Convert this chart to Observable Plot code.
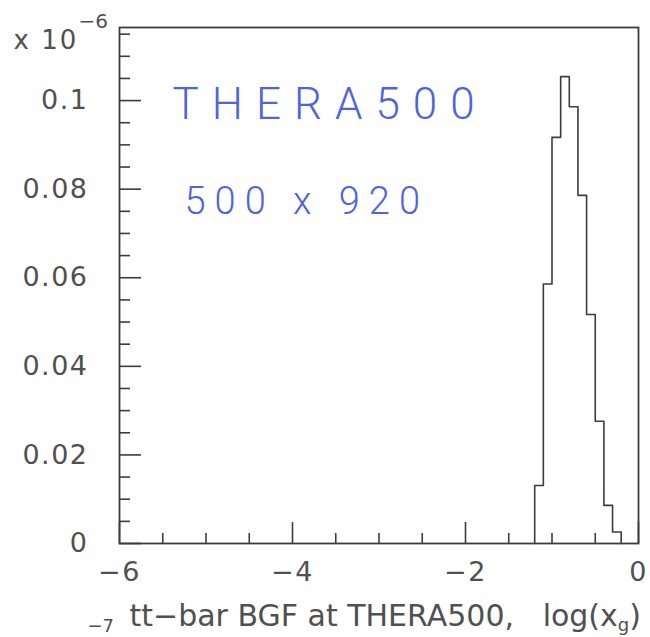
<!DOCTYPE html>
<html>
<head>
<meta charset="utf-8">
<script src="https://cdn.jsdelivr.net/npm/d3@7"></script>
<script src="https://cdn.jsdelivr.net/npm/@observablehq/plot@0.6"></script>
<style>
  html, body { margin: 0; padding: 0; background: #fff; }
  #chart svg { display: block; }
</style>
</head>
<body>
<div id="chart"></div>
<script>
// ---- data (values in units of 10^-6, as on the axis) ----
const binEdges  = [-1.2, -1.1, -1.0, -0.9, -0.8, -0.7, -0.6, -0.5, -0.4, -0.3, -0.2];
const binValues = [0.0131, 0.0586, 0.0917, 0.1054, 0.0986, 0.0786, 0.0517, 0.0276, 0.0086, 0.0026];
const xDomain = [-6, 0];
const yDomain = [0, 0.1165];
const xMajorTicks = [-6, -4, -2, 0];
const xMinorTicks = [-5.5, -5, -4.5, -3.5, -3, -2.5, -1.5, -1, -0.5];
const yMajorTicks = [0, 0.02, 0.04, 0.06, 0.08, 0.1];
const yMinorTicks = [0.005, 0.01, 0.015, 0.025, 0.03, 0.035, 0.045, 0.05, 0.055,
                     0.065, 0.07, 0.075, 0.085, 0.09, 0.095, 0.105, 0.11, 0.115];
const xTitle = "tt−bar BGF at THERA500,\u00a0\u00a0\u00a0log(x";
const xTitleSub = "g";
const xTitleEnd = ")";
const yExponentBase = "x 10";
const yExponent = "−6";
const cutText = "−7";
const note1 = "THERA500";
const note2 = "500 x 920";

// ---- layout ----
const W = 650, H = 637, mL = 119, mR = 12, mT = 27, mB = 94;
const frameW = W - mL - mR, frameH = H - mT - mB;
const ink = "#3c3c3c";
const textInk = "#505050";
const blue = "#4f63df";
const handFont = "'DejaVu Sans ExtraLight', 'Roboto Light', 'Open Sans Light', 'DejaVu Sans', sans-serif";

const fmt = d => d < 0 ? "−" + (-d) : String(d);

// step outline of histogram built from the bins
const stepData = [{x: binEdges[0], y: 0}]
  .concat(binValues.map((v, i) => ({x: binEdges[i], y: v})))
  .concat([{x: binEdges[binEdges.length - 1], y: 0}]);

const svg = Plot.plot({
  width: W, height: H,
  marginLeft: mL, marginRight: mR, marginTop: mT, marginBottom: mB,
  style: {fontFamily: "DejaVu Sans", fontSize: "27px", color: textInk, background: "#fff"},
  x: {domain: xDomain, ticks: xMajorTicks, tickSize: 0, tickPadding: 18, tickFormat: fmt, label: null},
  y: {domain: yDomain, ticks: yMajorTicks, tickSize: 0, tickPadding: 31, tickFormat: fmt, label: null},
  marks: [
    Plot.tickX(xMajorTicks, {x: d => d, stroke: ink, strokeWidth: 1.6, insetTop: frameH - 21}),
    Plot.tickX(xMinorTicks, {x: d => d, stroke: ink, strokeWidth: 1.6, insetTop: frameH - 10}),
    Plot.tickY(yMajorTicks, {y: d => d, stroke: ink, strokeWidth: 1.6, insetRight: frameW - 22}),
    Plot.tickY(yMinorTicks, {y: d => d, stroke: ink, strokeWidth: 1.6, insetRight: frameW - 11}),
    Plot.line(stepData, {x: "x", y: "y", curve: "step-after", stroke: ink, strokeWidth: 1.6}),
    Plot.frame({stroke: ink, strokeWidth: 1.8}),
    Plot.text([xTitle], {text: d => d, frameAnchor: "bottom-left", textAnchor: "start", lineAnchor: "bottom",
      dx: 10, dy: 82, fontSize: 30, fill: textInk}),
    Plot.text([yExponentBase], {text: d => d, frameAnchor: "top-left", textAnchor: "start", lineAnchor: "bottom",
      dx: -106, dy: 21, fontSize: 26, fill: textInk}),
    Plot.text([yExponent], {text: d => d, frameAnchor: "top-left", textAnchor: "start", lineAnchor: "bottom",
      dx: -41, dy: 0, fontSize: 20, fill: textInk}),
    Plot.text([cutText], {text: d => d, frameAnchor: "bottom-left", textAnchor: "start", lineAnchor: "bottom",
      dx: -32, dy: 88, fontSize: 18, fill: textInk}),
    Plot.text([note1], {text: d => d, frameAnchor: "top-left", textAnchor: "start", lineAnchor: "bottom",
      dx: 53, dy: 91, fontSize: 44, fontWeight: 300, fontFamily: handFont, fill: blue}),
    Plot.text([note2], {text: d => d, frameAnchor: "top-left", textAnchor: "start", lineAnchor: "bottom",
      dx: 65, dy: 186, fontSize: 38, fontWeight: 300, fontFamily: handFont, fill: blue})
  ]
});

document.getElementById("chart").appendChild(svg);

// post-processing: letter spacing, subscript in x title
const s = d3.select(svg);
const byText = str => s.selectAll("text").filter(function() { return this.textContent === str; });
s.selectAll('g[aria-label="x-axis tick label"] text, g[aria-label="y-axis tick label"] text')
  .style("letter-spacing", "1.5px");
byText(note1).style("letter-spacing", "13px");
byText(note2).style("letter-spacing", "9px");
byText(yExponentBase).style("letter-spacing", "2px");

const tNode = byText(xTitle).node();
if (tNode) {
  while (tNode.firstChild) tNode.removeChild(tNode.firstChild);
  const ns = "http://www.w3.org/2000/svg";
  const a = document.createElementNS(ns, "tspan");
  a.textContent = xTitle;
  const b = document.createElementNS(ns, "tspan");
  b.setAttribute("font-size", "18");
  b.setAttribute("dy", "5");
  b.textContent = xTitleSub;
  const c = document.createElementNS(ns, "tspan");
  c.setAttribute("dy", "-5");
  c.textContent = xTitleEnd;
  tNode.appendChild(a); tNode.appendChild(b); tNode.appendChild(c);
  // stretch letter spacing so the title spans the same width as the original
  const targetWidth = 508;
  const len = tNode.getComputedTextLength();
  const n = xTitle.length + 2;
  const ls = Math.max(0, (targetWidth - len) / n);
  tNode.style.letterSpacing = ls.toFixed(2) + "px";
}
</script>
</body>
</html>
